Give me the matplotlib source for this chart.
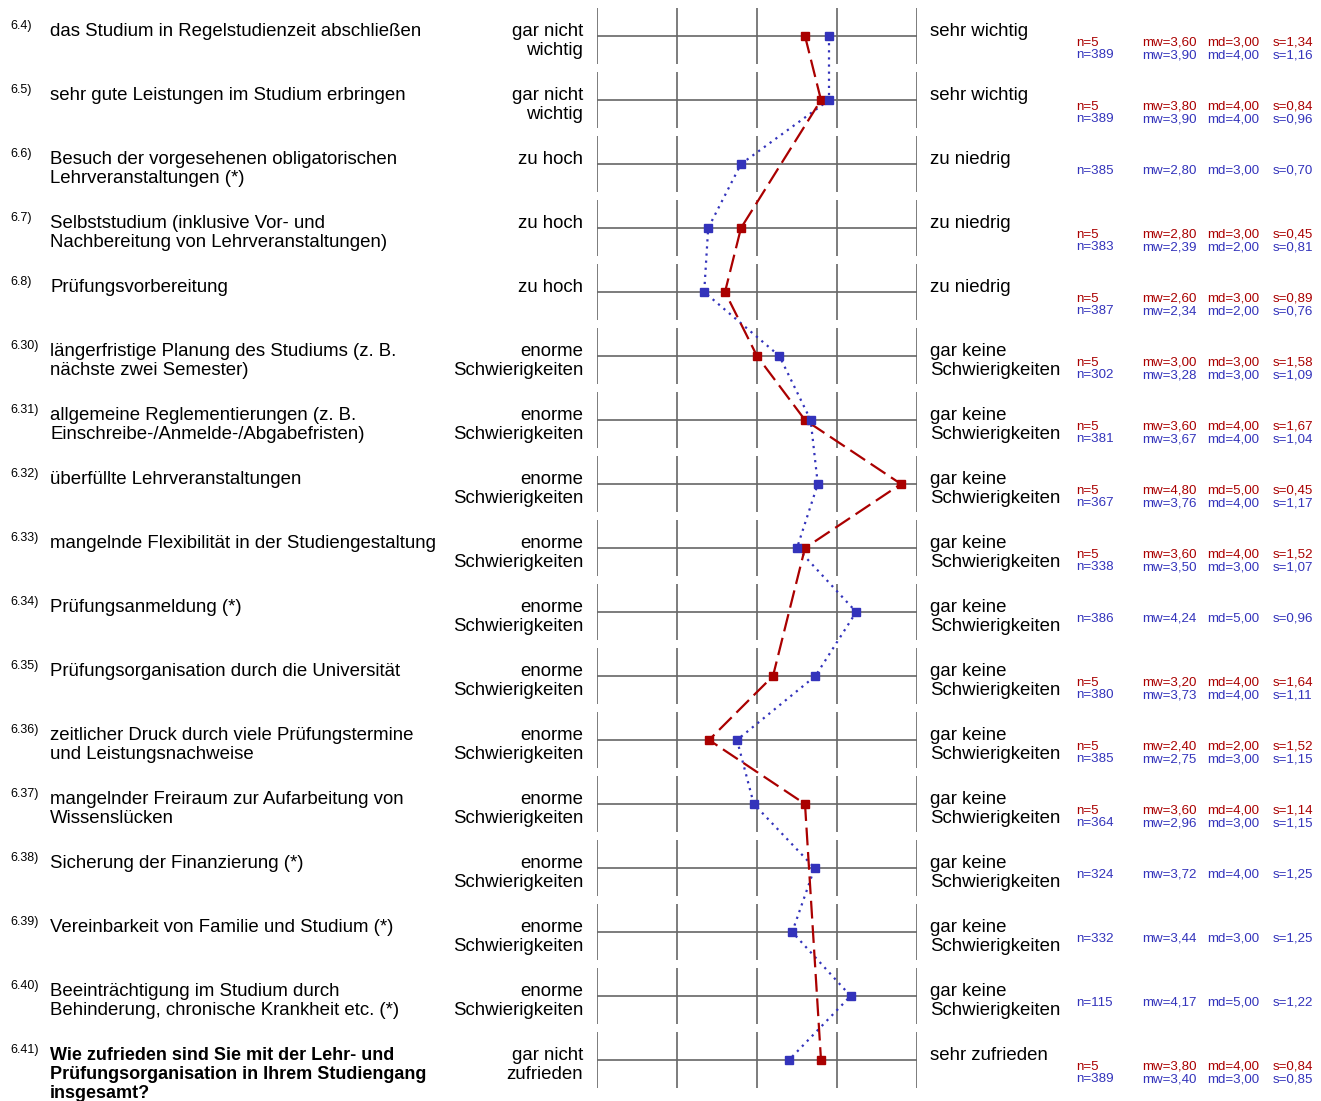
import numpy as np
import matplotlib.pyplot as plt
from matplotlib.transforms import blended_transform_factory

plt.rcParams['font.family'] = ['Liberation Sans', 'DejaVu Sans']

nums = ['6.4)', '6.5)', '6.6)', '6.7)', '6.8)', '6.30)', '6.31)', '6.32)', '6.33)',
        '6.34)', '6.35)', '6.36)', '6.37)', '6.38)', '6.39)', '6.40)', '6.41)']
questions = [
    'das Studium in Regelstudienzeit abschließen',
    'sehr gute Leistungen im Studium erbringen',
    'Besuch der vorgesehenen obligatorischen\nLehrveranstaltungen (*)',
    'Selbststudium (inklusive Vor- und\nNachbereitung von Lehrveranstaltungen)',
    'Prüfungsvorbereitung',
    'längerfristige Planung des Studiums (z. B.\nnächste zwei Semester)',
    'allgemeine Reglementierungen (z. B.\nEinschreibe-/Anmelde-/Abgabefristen)',
    'überfüllte Lehrveranstaltungen',
    'mangelnde Flexibilität in der Studiengestaltung',
    'Prüfungsanmeldung (*)',
    'Prüfungsorganisation durch die Universität',
    'zeitlicher Druck durch viele Prüfungstermine\nund Leistungsnachweise',
    'mangelnder Freiraum zur Aufarbeitung von\nWissenslücken',
    'Sicherung der Finanzierung (*)',
    'Vereinbarkeit von Familie und Studium (*)',
    'Beeinträchtigung im Studium durch\nBehinderung, chronische Krankheit etc. (*)',
    'Wie zufrieden sind Sie mit der Lehr- und\nPrüfungsorganisation in Ihrem Studiengang\ninsgesamt?',
]
left_labels = ['gar nicht\nwichtig', 'gar nicht\nwichtig', 'zu hoch', 'zu hoch', 'zu hoch'] + \
    ['enorme\nSchwierigkeiten'] * 11 + ['gar nicht\nzufrieden']
right_labels = ['sehr wichtig', 'sehr wichtig', 'zu niedrig', 'zu niedrig', 'zu niedrig'] + \
    ['gar keine\nSchwierigkeiten'] * 11 + ['sehr zufrieden']

# red series (n=5), None where no data
red_n = [5, 5, None, 5, 5, 5, 5, 5, 5, None, 5, 5, 5, None, None, None, 5]
red_mw = [3.60, 3.80, None, 2.80, 2.60, 3.00, 3.60, 4.80, 3.60, None, 3.20, 2.40, 3.60, None, None, None, 3.80]
red_md = [3.00, 4.00, None, 3.00, 3.00, 3.00, 4.00, 5.00, 4.00, None, 4.00, 2.00, 4.00, None, None, None, 4.00]
red_s = [1.34, 0.84, None, 0.45, 0.89, 1.58, 1.67, 0.45, 1.52, None, 1.64, 1.52, 1.14, None, None, None, 0.84]

# blue series
blue_n = [389, 389, 385, 383, 387, 302, 381, 367, 338, 386, 380, 385, 364, 324, 332, 115, 389]
blue_mw = [3.90, 3.90, 2.80, 2.39, 2.34, 3.28, 3.67, 3.76, 3.50, 4.24, 3.73, 2.75, 2.96, 3.72, 3.44, 4.17, 3.40]
blue_md = [4.00, 4.00, 3.00, 2.00, 2.00, 3.00, 4.00, 4.00, 3.00, 5.00, 4.00, 3.00, 3.00, 4.00, 3.00, 5.00, 3.00]
blue_s = [1.16, 0.96, 0.70, 0.81, 0.76, 1.09, 1.04, 1.17, 1.07, 0.96, 1.11, 1.15, 1.15, 1.25, 1.25, 1.22, 0.85]

RED = '#aa0000'
BLUE = '#3333bb'
GRID = '#666666'

W, H = 1321, 1101
fig = plt.figure(figsize=(W / 100, H / 100), dpi=100)
ax = fig.add_axes([597 / W, 0, 320 / W, 1])
ax.set_xlim(1, 5)
ax.set_ylim((H - 36) / 64, -36 / 64)
ax.axis('off')

rows = np.arange(len(questions))
for i in rows:
    ax.hlines(i, 1, 5, color=GRID, lw=1.2, zorder=1)
    ax.vlines([1, 2, 3, 4, 5], i - 0.44, i + 0.43, color=GRID, lw=1.2, zorder=1)

bx = np.array(blue_mw)
ax.plot(bx, rows, color=BLUE, lw=1.6, ls=(0, (1, 2.2)), zorder=2)
ax.plot(bx, rows, ls='none', marker='s', ms=6.3, color=BLUE, zorder=4)

rmask = [v is not None for v in red_mw]
rx = np.array([v for v in red_mw if v is not None])
ry = rows[rmask]
ax.plot(rx, ry, color=RED, lw=1.6, ls=(0, (8, 3)), zorder=3)
ax.plot(rx, ry, ls='none', marker='s', ms=6.3, color=RED, zorder=3.5)

tr = blended_transform_factory(fig.transFigure, ax.transData)


def fx(px):
    return px / W


def fmt(v):
    return f'{v:.2f}'.replace('.', ',')


FS = 13.4
LS = 1.14
for i in rows:
    y_top = i - 0.20
    last = i == len(rows) - 1
    ax.text(fx(10), i - 0.25, nums[i], transform=tr, fontsize=9, va='top', ha='left')
    ax.text(fx(50), y_top, questions[i], transform=tr, fontsize=13.0 if last else FS,
            va='top', ha='left', linespacing=LS,
            fontweight='bold' if last else 'normal')
    ax.text(fx(583), y_top, left_labels[i], transform=tr, fontsize=FS, va='top', ha='right',
            linespacing=LS)
    ax.text(fx(930), y_top, right_labels[i], transform=tr, fontsize=FS, va='top', ha='left',
            linespacing=LS)

    lines = []
    if red_n[i] is not None:
        lines.append((RED, red_n[i], red_mw[i], red_md[i], red_s[i]))
    lines.append((BLUE, blue_n[i], blue_mw[i], blue_md[i], blue_s[i]))
    for k, (c, n, mw, md, s) in enumerate(lines):
        yy = i + (6.5 + 13 * k) / 64
        kw = dict(transform=tr, fontsize=9.6, color=c, va='center', ha='left')
        ax.text(fx(1076), yy, f'n={n}', **kw)
        ax.text(fx(1142), yy, f'mw={fmt(mw)}', **kw)
        ax.text(fx(1207), yy, f'md={fmt(md)}', **kw)
        ax.text(fx(1273), yy, f's={fmt(s)}', **kw)

fig.savefig('out.png', dpi=100)
